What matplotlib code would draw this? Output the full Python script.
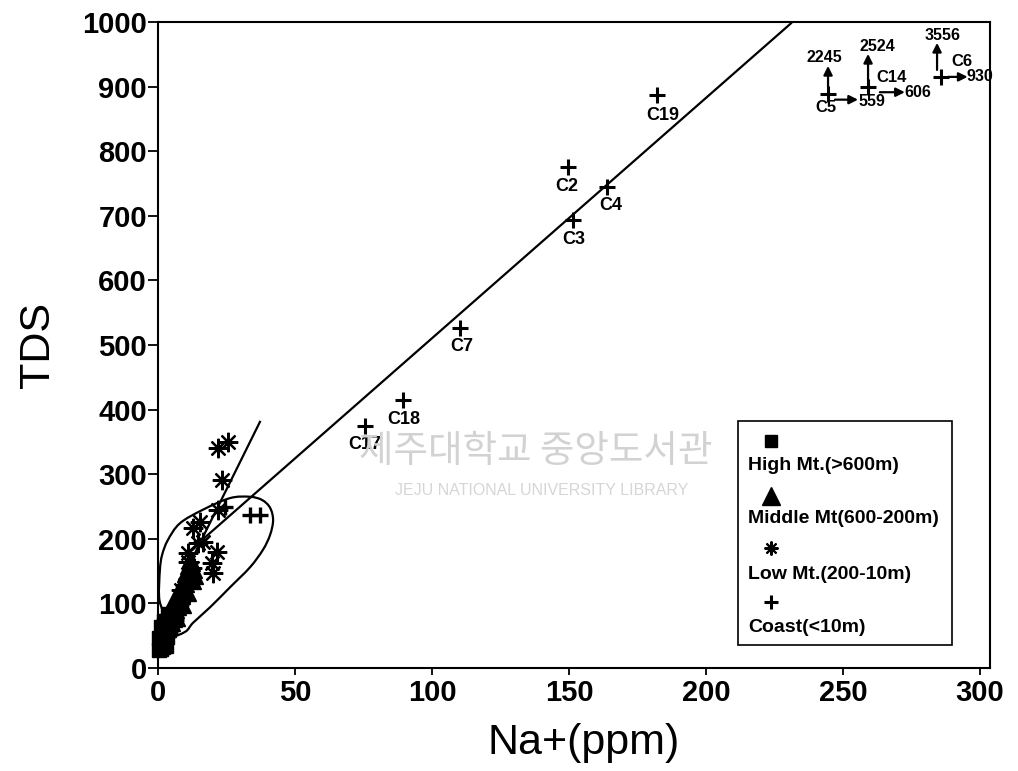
import numpy as np
import matplotlib
matplotlib.use("Agg")
import matplotlib.pyplot as plt
from matplotlib.path import Path
from matplotlib.patches import PathPatch, Rectangle
from matplotlib.transforms import offset_copy

plt.rcParams['font.family'] = ['Liberation Sans', 'DejaVu Sans']
plt.rcParams['font.weight'] = 'bold'

# ---- data: Na+ (ppm) vs TDS ----
high_na = [0.5, 1.2, 2.0, 2.8, 1.0, 1.8, 2.6, 3.4, 1.5, 2.4, 3.2, 4.0, 2.2, 3.0, 3.8, 4.6,
           0.8, 1.6, 0.3, 1.1, 2.1, 3.6, 5.0, 4.2]
high_tds = [28, 30, 32, 34, 40, 42, 45, 48, 52, 55, 58, 62, 66, 70, 74, 78,
            36, 60, 46, 64, 72, 84, 80, 68]

mid_na = [3.5, 4.5, 5.2, 6.0, 4.8, 5.8, 6.6, 7.4, 6.2, 7.2, 8.0, 8.8, 7.8, 8.8, 9.6,
          10.4, 9.4, 10.4, 11.2, 12.0, 13.0, 5.0, 6.8, 8.4, 9.8, 11.0, 12.4, 7.0,
          3.0, 4.0, 5.6, 9.0, 10.8, 12.6, 13.4, 11.6]
mid_tds = [60, 64, 70, 76, 82, 86, 90, 95, 100, 104, 108, 112, 118, 122, 126,
           130, 136, 140, 144, 148, 152, 94, 112, 128, 146, 158, 162, 78,
           76, 90, 104, 98, 116, 134, 142, 168]

low_na = [5.0, 6.5, 7.5, 9.0, 10.0, 11.5, 12.5, 8.5,
          25.5, 21.9, 23.4, 15.3, 12.8, 16.4, 10.9, 21.5, 10.9, 19.7, 20.1, 14.6, 21.9]
low_tds = [72, 88, 98, 112, 128, 138, 155, 120,
           350, 341, 291, 226, 217, 195, 178, 180, 164, 163, 147, 193, 245]

coast_na = [1.5, 2.5, 3.5, 4.5, 5.5, 6.5, 3.0, 4.0, 24.5, 33.6, 37.2]
coast_tds = [36, 44, 50, 58, 66, 74, 62, 80, 249, 237, 237]

# labelled coastal wells
well_names = ['C19', 'C2', 'C4', 'C3', 'C7', 'C18', 'C17']
well_na = [182.0, 149.6, 163.7, 151.6, 110.2, 89.5, 75.5]
well_tds = [887, 776, 744, 693, 526, 415, 374]

# off-scale wells, plotted at the chart edge with their true values
off_names = ['C5', 'C14', 'C6']
off_na_plot = [244.5, 259.1, 285.8]
off_tds_plot = [889, 899, 915]
off_na_true = [559, 606, 930]
off_tds_true = [2245, 2524, 3556]

# trend lines
trend_na = [12, 231]
trend_tds = [183, 998]
steep_na = [12, 37.2]
steep_tds = [165, 381]

# envelope around the inland samples
env_na = [9.9, 12.8, 19.0, 26.3, 33.6, 38.3, 40.9, 42.0, 40.9, 38.0, 33.6, 26.3,
          16.4, 8.0, 3.6, 1.5, 0.7, 0.4, 1.8, 4.4]
env_tds = [56, 70, 94, 125, 156, 183, 206, 229, 248, 260, 265, 263,
           245, 224, 198, 175, 152, 110, 87, 51]

x_ticks = [0, 50, 100, 150, 200, 250, 300]
y_ticks = list(range(0, 1001, 100))

fig = plt.figure(figsize=(10.18, 7.71), dpi=100)
ax = fig.add_axes([0.1552, 0.1336, 0.8173, 0.8379])
ax.set_xlim(0, 303.6)
ax.set_ylim(0, 1000)

# watermark
fig.text(0.526, 0.414, '제주대학교 중앙도서관', fontsize=27, color='#d2d2d2',
         ha='center', va='center', family=['Noto Sans CJK KR'], fontweight='normal', zorder=0)
fig.text(0.532, 0.364, 'JEJU NATIONAL UNIVERSITY LIBRARY', fontsize=11.5, color='#d6d6d6',
         ha='center', va='center', fontweight='normal', zorder=0)

# envelope as a smooth closed curve (Catmull-Rom -> cubic Bezier)
pts = np.column_stack([env_na, env_tds]).astype(float)
n = len(pts)
verts = [pts[0]]
codes = [Path.MOVETO]
for i in range(n):
    p0, p1, p2, p3 = pts[i - 1], pts[i], pts[(i + 1) % n], pts[(i + 2) % n]
    c1 = p1 + (p2 - p0) / 6.0
    c2 = p2 - (p3 - p1) / 6.0
    verts += [c1, c2, p2]
    codes += [Path.CURVE4] * 3
ax.add_patch(PathPatch(Path(verts, codes), fill=False, lw=1.6, ec='black', zorder=2))

ax.plot(trend_na, trend_tds, color='black', lw=1.6, zorder=2)
ax.plot(steep_na, steep_tds, color='black', lw=1.6, zorder=2)

star = (8, 2, 0)
ax.plot(high_na, high_tds, 's', color='black', ms=10, zorder=3, clip_on=False)
ax.plot(mid_na, mid_tds, '^', color='black', ms=12, zorder=3, clip_on=False)
ax.plot(low_na, low_tds, marker=star, ls='none', color='black', ms=14, mew=1.6, zorder=3)
ax.plot(coast_na, coast_tds, '+', color='black', ms=12, mew=2.4, zorder=3, clip_on=False)
ax.plot(well_na, well_tds, '+', color='black', ms=12, mew=2.2, zorder=3)
ax.plot(off_na_plot, off_tds_plot, '+', color='black', ms=12, mew=2.2, zorder=3)

label_offsets = {'C19': (4, -15), 'C2': (-1, -14), 'C4': (3, -13), 'C3': (0, -14),
                 'C7': (1, -13), 'C18': (0, -14), 'C17': (0, -13)}
for name, x, y in zip(well_names, well_na, well_tds):
    ax.annotate(name, (x, y), xytext=label_offsets[name], textcoords='offset points',
                ha='center', va='center', fontsize=13)

# off-scale layout in points relative to each cross
off_layout = {
    'C5': dict(up=(0, 5, 20), upl=(-2.5, 26), name=(-1.5, -10), right=(5, 21.6, -4.3), rl=(21.6, -5.5)),
    'C14': dict(up=(0, 5, 24), upl=(6.5, 29), name=(17, 7), right=(8.5, 26.5, -3.6), rl=(26.5, -3.6)),
    'C6': dict(up=(-3, 5, 24.5), upl=(0.7, 30), name=(15, 11), right=(5, 19, 0), rl=(18, 0)),
}
arrow_kw = dict(arrowstyle='-|>', color='black', lw=1.6, mutation_scale=13,
                shrinkA=0, shrinkB=0)
for name, x, y, nt, tt in zip(off_names, off_na_plot, off_tds_plot, off_na_true, off_tds_true):
    L = off_layout[name]
    ux, u0, u1 = L['up']
    ax.annotate('', xy=(x, y), xycoords=offset_copy(ax.transData, fig, x=ux, y=u1, units='points'),
                xytext=(x, y), textcoords=offset_copy(ax.transData, fig, x=ux, y=u0, units='points'),
                arrowprops=arrow_kw, annotation_clip=False)
    ax.annotate(str(tt), (x, y), xytext=L['upl'], textcoords='offset points',
                ha='center', va='center', fontsize=11.5, annotation_clip=False)
    ax.annotate(name, (x, y), xytext=L['name'], textcoords='offset points',
                ha='center', va='center', fontsize=12)
    r0, r1, ry = L['right']
    ax.annotate('', xy=(x, y), xycoords=offset_copy(ax.transData, fig, x=r1, y=ry, units='points'),
                xytext=(x, y), textcoords=offset_copy(ax.transData, fig, x=r0, y=ry, units='points'),
                arrowprops=arrow_kw, annotation_clip=False)
    ax.annotate(str(nt), (x, y), xytext=L['rl'], textcoords='offset points',
                ha='left', va='center', fontsize=11.5, annotation_clip=False)

# legend box
ax.add_patch(Rectangle((0.697, 0.035), 0.257, 0.347, transform=ax.transAxes,
                       fill=True, fc='white', ec='black', lw=1.2, zorder=4))
leg_items = [('s', 9, 1, 'High Mt.(>600m)'),
             ('^', 13, 1, 'Middle Mt(600-200m)'),
             (star, 10, 1.5, 'Low Mt.(200-10m)'),
             ('+', 10, 2.2, 'Coast(<10m)')]
mark_y = [0.351, 0.267, 0.186, 0.102]
text_y = [0.313, 0.231, 0.145, 0.062]
for (m, ms, mew, lab), my, ty in zip(leg_items, mark_y, text_y):
    ax.plot([0.737], [my], marker=m, ms=ms, mew=mew, color='black', ls='none',
            transform=ax.transAxes, zorder=5)
    ax.text(0.709, ty, lab, transform=ax.transAxes, ha='left', va='center',
            fontsize=14, zorder=5)

# axes styling
for s in ax.spines.values():
    s.set_linewidth(1.5)
ax.set_xticks(x_ticks)
ax.set_yticks(y_ticks)
ax.tick_params(axis='both', direction='out', width=1.3, labelsize=21)
ax.tick_params(axis='y', length=7, pad=1)
ax.tick_params(axis='x', length=5, pad=3)
ax.set_xlabel('Na+(ppm)', fontsize=31, fontweight='normal')
ax.set_ylabel('TDS', fontsize=31, fontweight='normal')
ax.xaxis.set_label_coords(0.511, -0.085)
ax.yaxis.set_label_coords(-0.12, 0.5)

fig.savefig('out.png', dpi=100)
